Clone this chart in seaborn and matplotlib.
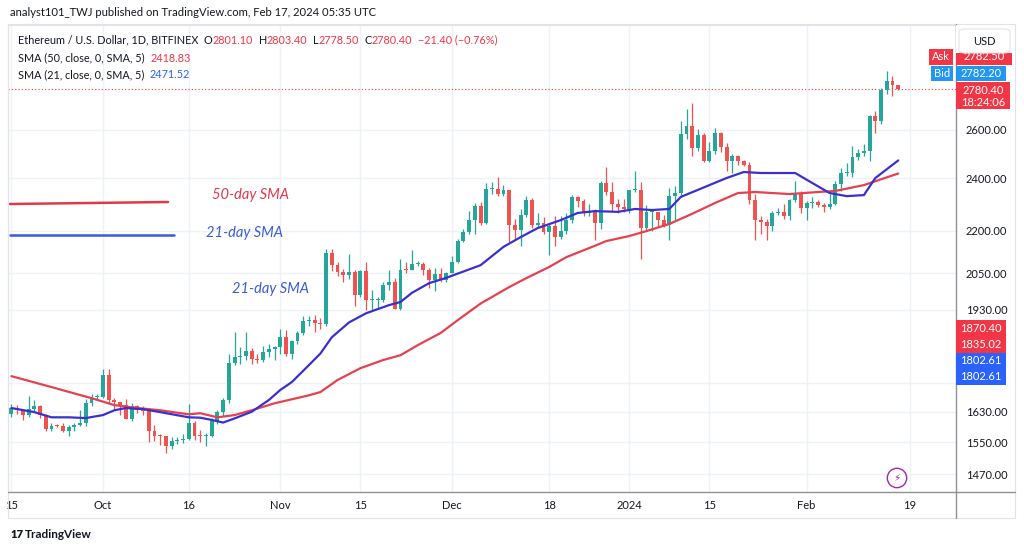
import numpy as np
import pandas as pd
import matplotlib
matplotlib.use("Agg")
import matplotlib.pyplot as plt
import matplotlib.dates as mdates
from matplotlib.patches import Rectangle, FancyBboxPatch
from matplotlib.lines import Line2D
from matplotlib.ticker import NullLocator
import seaborn as sns

# ---------------- data ----------------
dates = pd.date_range("2023-09-15", "2024-02-17", freq="D")

sep_o = [1625,1641,1635,1621,1637,1645,1622,1585,1593,1592,1580,1588,1594,1600,1655,1670]
sep_h = [1650,1647,1637,1674,1662,1647,1623,1601,1598,1599,1594,1599,1635,1665,1680,1680]
sep_l = [1617,1625,1608,1615,1630,1612,1580,1580,1588,1575,1565,1579,1591,1592,1645,1665]
sep_c = [1641,1635,1621,1637,1645,1622,1585,1593,1592,1580,1588,1594,1600,1655,1670,1671]

oct_o = [1671,1733,1663,1656,1647,1611,1645,1634,1633,1580,1567,1566,1539,1552,1555,1558,
         1600,1566,1565,1566,1604,1628,1663,1767,1785,1788,1803,1779,1776,1800,1810]
oct_h = [1750,1751,1668,1657,1665,1655,1648,1646,1634,1595,1571,1567,1563,1563,1571,1650,
         1605,1581,1573,1612,1635,1668,1795,1859,1815,1861,1812,1793,1818,1825,1818]
oct_l = [1667,1655,1634,1622,1610,1605,1626,1620,1550,1553,1543,1522,1533,1545,1548,1555,
         1556,1550,1540,1563,1598,1618,1654,1760,1765,1775,1765,1768,1770,1785,1775]
oct_c = [1733,1663,1656,1647,1611,1645,1634,1633,1580,1567,1566,1539,1552,1555,1558,1600,
         1566,1565,1566,1604,1628,1663,1767,1785,1788,1803,1779,1776,1800,1810,1815]

nov_o = [1815,1846,1795,1832,1857,1894,1899,1887,1886,2120,2077,2054,2045,2055,1978,
         2058,1960,1961,1962,2012,2022,1931,2063,2061,2081,2083,2063,2027,2049,2029]
nov_h = [1868,1865,1835,1862,1910,1909,1912,1904,2135,2135,2090,2065,2118,2060,2063,
         2090,1995,1972,2020,2060,2035,2100,2090,2132,2093,2090,2070,2070,2068,2055]
nov_l = [1795,1788,1780,1825,1851,1880,1860,1870,1880,2057,2040,2022,2030,1942,1970,
         1930,1930,1937,1955,1995,1931,1930,2050,2060,2075,2045,2000,1990,2020,2020]
nov_c = [1846,1795,1832,1857,1894,1899,1887,1886,2120,2077,2054,2045,2055,1978,2058,
         1960,1961,1962,2012,2022,1931,2063,2061,2081,2083,2063,2027,2049,2029,2052]

dec_o = [2052,2088,2164,2194,2241,2292,2230,2357,2358,2340,2352,2223,2202,2259,2316,2220,
         2230,2196,2218,2178,2201,2240,2326,2310,2265,2270,2230,2380,2345,2300,2290]
dec_h = [2110,2170,2207,2275,2305,2308,2383,2385,2405,2375,2355,2245,2280,2330,2322,2265,
         2250,2225,2255,2255,2265,2335,2330,2320,2300,2280,2390,2445,2385,2320,2320]
dec_l = [2050,2085,2158,2190,2190,2220,2225,2340,2330,2330,2160,2165,2145,2250,2210,2215,
         2190,2115,2145,2170,2190,2228,2288,2255,2255,2165,2205,2335,2275,2265,2270]
dec_c = [2088,2164,2194,2241,2292,2230,2357,2358,2340,2352,2223,2202,2259,2316,2220,2230,
         2196,2218,2178,2201,2240,2326,2310,2265,2270,2230,2380,2345,2300,2290,2282]

jan_o = [2282,2352,2355,2210,2268,2268,2240,2222,2330,2344,2584,2617,2525,2577,2470,2511,
         2589,2528,2469,2490,2471,2455,2314,2241,2234,2217,2267,2269,2256,2315,2343]
jan_h = [2355,2430,2385,2295,2280,2270,2260,2360,2370,2640,2690,2717,2605,2585,2550,2610,
         2590,2545,2500,2495,2475,2465,2340,2255,2245,2275,2285,2300,2320,2390,2350]
jan_l = [2265,2345,2100,2200,2200,2215,2215,2165,2240,2325,2560,2490,2510,2465,2465,2500,
         2505,2430,2420,2455,2450,2300,2168,2190,2165,2200,2260,2245,2240,2308,2265]
jan_c = [2352,2355,2210,2268,2268,2240,2222,2330,2344,2584,2617,2525,2577,2470,2511,2589,
         2528,2469,2490,2471,2455,2314,2241,2234,2217,2267,2269,2256,2315,2343,2283]

feb_o = [2283,2304,2306,2297,2290,2299,2376,2420,2423,2488,2504,2512,2660,2640,2778,2822,2801.1]
feb_h = [2310,2325,2315,2305,2340,2390,2440,2460,2530,2520,2540,2665,2685,2785,2865,2845,2803.4]
feb_l = [2240,2285,2290,2270,2280,2295,2350,2410,2405,2475,2490,2470,2585,2625,2760,2750,2778.5]
feb_c = [2304,2306,2297,2290,2299,2376,2420,2423,2488,2504,2512,2660,2640,2778,2822,2801,2780.4]

opens = sep_o + oct_o + nov_o + dec_o + jan_o + feb_o
highs = sep_h + oct_h + nov_h + dec_h + jan_h + feb_h
lows = sep_l + oct_l + nov_l + dec_l + jan_l + feb_l
closes = sep_c + oct_c + nov_c + dec_c + jan_c + feb_c

sma21_dates = ["2023-09-15","2023-09-19","2023-09-22","2023-09-25","2023-09-28","2023-10-01",
               "2023-10-03","2023-10-05","2023-10-08","2023-10-11","2023-10-16","2023-10-18",
               "2023-10-20","2023-10-22","2023-10-24","2023-10-27","2023-10-30","2023-11-01",
               "2023-11-03","2023-11-06","2023-11-08","2023-11-10","2023-11-13","2023-11-16",
               "2023-11-20","2023-11-22","2023-11-24","2023-11-27","2023-11-30","2023-12-06",
               "2023-12-10","2023-12-13","2023-12-16","2023-12-20","2023-12-23","2023-12-26",
               "2023-12-30","2024-01-02","2024-01-05","2024-01-08","2024-01-10","2024-01-15",
               "2024-01-18","2024-01-21","2024-01-24","2024-01-30","2024-02-02","2024-02-05",
               "2024-02-08","2024-02-11","2024-02-13","2024-02-17"]
sma21_vals = [1640,1629,1615,1615,1613,1621,1634,1640,1637,1629,1615,1614,1608,1601,1612,1630,
              1662,1690,1712,1761,1795,1844,1890,1919,1945,1955,1985,2017,2035,2078,2142,2177,
              2210,2239,2266,2273,2270,2281,2277,2281,2327,2373,2401,2425,2421,2421,2381,2342,
              2330,2334,2401,2472]

sma50_dates = ["2023-09-15","2023-09-22","2023-09-29","2023-10-03","2023-10-07","2023-10-11",
               "2023-10-16","2023-10-18","2023-10-21","2023-10-24","2023-10-27","2023-10-31",
               "2023-11-06","2023-11-08","2023-11-11","2023-11-15","2023-11-19","2023-11-22",
               "2023-11-25","2023-11-29","2023-12-02","2023-12-06","2023-12-11","2023-12-14",
               "2023-12-18","2023-12-21","2023-12-25","2023-12-28","2024-01-01","2024-01-04",
               "2024-01-08","2024-01-12","2024-01-16","2024-01-20","2024-01-23","2024-01-29",
               "2024-02-03","2024-02-06","2024-02-11","2024-02-17"]
sma50_vals = [1729,1698,1667,1648,1640,1634,1623,1626,1615,1621,1634,1653,1675,1684,1718,1752,
              1776,1790,1820,1857,1897,1950,2004,2034,2072,2106,2138,2163,2181,2199,2225,2263,
              2304,2342,2346,2338,2346,2350,2373,2419]

price_ticks = [1470, 1550, 1630, 1710, 1930, 2050, 2200, 2400, 2600]
price_labels = ["1470.00", "1550.00", "1630.00", "", "1930.00", "2050.00", "2200.00",
                "2400.00", "2600.00"]
date_ticks = ["2023-09-15","2023-10-01","2023-10-16","2023-11-01","2023-11-15","2023-12-01",
              "2023-12-18","2024-01-01","2024-01-15","2024-02-01","2024-02-19"]
date_labels = ["15","Oct","16","Nov","15","Dec","18","2024","15","Feb","19"]
last_price = 2780.40

# ---------------- style ----------------
sns.set_theme(style="white")
plt.rcParams['font.family'] = ['Lato', 'DejaVu Sans']

W, H = 1024, 551
fig = plt.figure(figsize=(W / 100, H / 100), dpi=100)
fig.patch.set_facecolor("white")

def fx(px):
    return px / W

def fy(py):
    return 1 - py / H

ax = fig.add_axes([fx(8), fy(492), (956 - 8) / W, (492 - 25) / H])
ax.set_facecolor("white")

GREEN = "#26a69a"
RED = "#ef5350"
TXT = "#131722"

xs = mdates.date2num(dates)
o = np.array(opens, float)
h = np.array(highs, float)
l = np.array(lows, float)
c = np.array(closes, float)
cols = np.where(c >= o, GREEN, RED)
bottoms = np.minimum(o, c)
heights = np.maximum(np.abs(c - o), c * 0.0018)

ax.vlines(xs, l, h, colors=cols, lw=0.9, zorder=2)
ax.bar(xs, heights, bottom=bottoms, width=0.68, color=cols, linewidth=0, zorder=2)

sns.lineplot(x=pd.to_datetime(sma50_dates), y=sma50_vals, ax=ax, color="#e5414f",
             linewidth=1.6, zorder=3)
sns.lineplot(x=pd.to_datetime(sma21_dates), y=sma21_vals, ax=ax, color="#3a30d0",
             linewidth=1.6, zorder=3)

ax.axhline(last_price, color="#f23645", lw=0.8, ls=(0, (1, 2)), zorder=1)

ax.set_yscale("log")
ax.set_ylim(1427, 3094)
x0 = mdates.date2num(pd.Timestamp("2023-09-15"))
ax.set_xlim(x0 - 0.6, x0 + 165.1)

ax.yaxis.tick_right()
ax.set_yticks(price_ticks)
ax.set_yticklabels(price_labels)
ax.yaxis.set_minor_locator(NullLocator())
ax.set_xticks(mdates.date2num(pd.to_datetime(date_ticks)))
ax.set_xticklabels(date_labels)
ax.tick_params(axis="y", length=0, pad=7, labelsize=8, labelcolor=TXT)
ax.tick_params(axis="x", length=0, pad=6, labelsize=8, labelcolor=TXT)
ax.set_xlabel("")
ax.set_ylabel("")
ax.grid(True, color="#eef1f6", lw=1, zorder=0)
ax.set_axisbelow(True)
for s in ["left", "top"]:
    ax.spines[s].set_color("#e0e3eb")
    ax.spines[s].set_linewidth(0.8)
for s in ["right", "bottom"]:
    ax.spines[s].set_visible(False)

# frame lines
fig.add_artist(Line2D([fx(956), fx(956)], [fy(24), fy(518)], color="#8f929b", lw=1))
fig.add_artist(Line2D([fx(8), fx(1015)], [fy(492), fy(492)], color="#8f929b", lw=1))
fig.add_artist(Rectangle((fx(8), fy(518)), (1015 - 8) / W, (518 - 24) / H,
                         fill=False, ec="#e0e3eb", lw=0.8))

# header
fig.text(fx(10), fy(13), "analyst101_TWJ published on TradingView.com, Feb 17, 2024 05:35 UTC",
         fontsize=8.1, color=TXT, va="center", ha="left")

def chain(parts, x, y, size=7.8):
    prev = None
    for txt, col, gap in parts:
        if prev is None:
            prev = fig.text(fx(x), fy(y), txt, color=col, fontsize=size, va="center", ha="left")
        else:
            prev = ax.annotate(txt, xy=(1, 0.5), xycoords=prev, xytext=(gap, 0),
                               textcoords="offset points", va="center", ha="left",
                               color=col, fontsize=size, annotation_clip=False)
    return prev

RV = "#f23645"
BV = "#2962ff"
chain([("Ethereum / U.S. Dollar, 1D, BITFINEX", TXT, 0),
       ("O", TXT, 4), ("2801.10", RV, 0),
       ("H", TXT, 4), ("2803.40", RV, 0),
       ("L", TXT, 4), ("2778.50", RV, 0),
       ("C", TXT, 4), ("2780.40", RV, 0),
       ("\u221221.40 (\u22120.76%)", RV, 4)], 18, 40)
chain([("SMA (50, close, 0, SMA, 5)", TXT, 0), ("2418.83", RV, 4)], 18, 58)
chain([("SMA (21, close, 0, SMA, 5)", TXT, 0), ("2471.52", BV, 4)], 18, 75)

# drawn annotations
fig.add_artist(Line2D([fx(10), fx(168)], [fy(204), fy(202)], color="#e0394a", lw=1.8))
fig.add_artist(Line2D([fx(10), fx(174)], [fy(235), fy(235)], color="#3d5bd9", lw=1.8))
fig.text(fx(251), fy(195), "50-day SMA", color="#e0394a", fontsize=10.5, style="italic",
         ha="center", va="center")
fig.text(fx(244), fy(233), "21-day SMA", color="#3d5bd9", fontsize=10.5, style="italic",
         ha="center", va="center")
fig.text(fx(271), fy(289), "21-day SMA", color="#3d5bd9", fontsize=10.5, style="italic",
         ha="center", va="center")

# price tags
def rect(x1, y1, x2, y2, fc, ec="none", z=5):
    r = Rectangle((fx(x1), fy(y2)), (x2 - x1) / W, (y2 - y1) / H, fc=fc, ec=ec, lw=0.8,
                  transform=fig.transFigure, zorder=z)
    fig.add_artist(r)

def tag_text(x, y, s, col="white", size=8, ha="center", z=6):
    fig.text(fx(x), fy(y), s, color=col, fontsize=size, ha=ha, va="center", zorder=z)

rect(956, 49, 1012, 65, "#f23645")
tag_text(984, 56, "2782.50")
rect(929, 49, 953, 65, "#f23645")
tag_text(941, 57, "Ask")
rect(956, 25, 1014, 53, "white", z=7)
fig.add_artist(FancyBboxPatch((fx(959), fy(53)), (1010 - 959) / W, (53 - 29) / H,
                              boxstyle="round,pad=0,rounding_size=0.006", fc="white",
                              ec="#e0e3eb", lw=0.8, transform=fig.transFigure, zorder=8))
tag_text(984, 41, "USD", col=TXT, size=8, z=9)

rect(931, 66, 953, 81, "#2196f3")
tag_text(942, 73.5, "Bid")
rect(956, 66, 1006, 81, "#2196f3")
tag_text(981, 73.5, "2782.20")
rect(956, 82, 1010, 109, "#f23645")
tag_text(983, 90, "2780.40")
tag_text(983, 102, "18:24:06")

rect(956, 320, 1006, 353, "#f23645")
tag_text(981, 329, "1870.40")
tag_text(981, 345, "1835.02")
rect(956, 353, 1006, 385, "#2962ff")
tag_text(981, 361, "1802.61")
tag_text(981, 377, "1802.61")

# lightning icon
fig.text(fx(897), fy(478), "\u26a1", color="#9c27b0", fontsize=7.5, ha="center", va="center",
         family="DejaVu Sans",
         bbox=dict(boxstyle="circle,pad=0.45", fc="white", ec="#9c27b0", lw=1))

# bottom logo
fig.text(fx(10), fy(535), "17", color=TXT, fontsize=8, weight="heavy", ha="left", va="center")
fig.text(fx(25), fy(535), "TradingView", color=TXT, fontsize=8.5, weight="bold",
         ha="left", va="center")

fig.savefig("out.png", dpi=100, facecolor="white")
